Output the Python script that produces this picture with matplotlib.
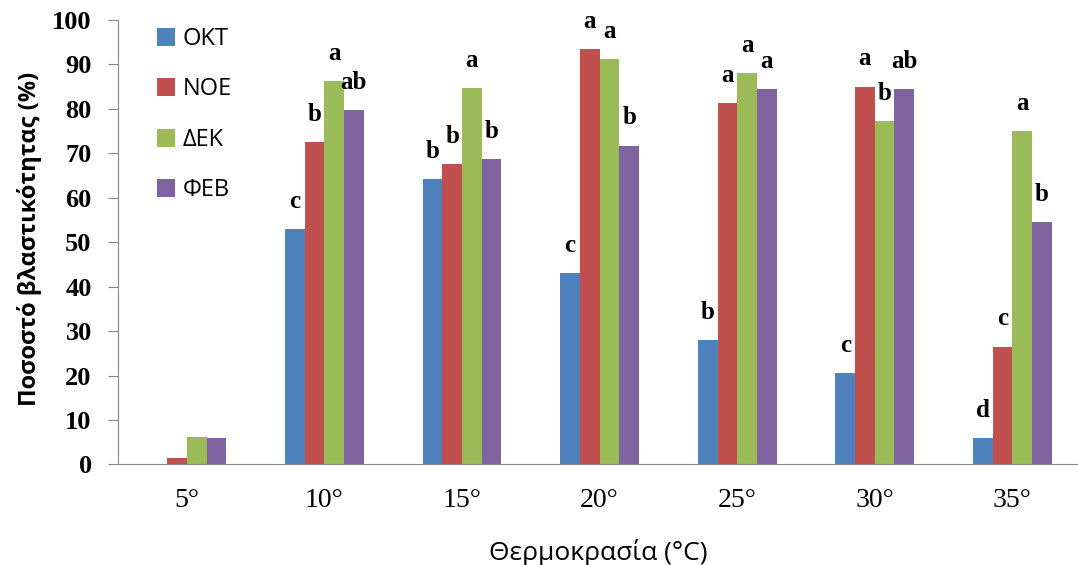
# Ποσοστό βλαστικότητας ανά θερμοκρασία και μήνα συλλογής
import numpy as np
import matplotlib.pyplot as plt

temps = ['5°', '10°', '15°', '20°', '25°', '30°', '35°']
months = ['ΟΚΤ', 'ΝΟΕ', 'ΔΕΚ', 'ΦΕΒ']
okt = [0.0, 53.0, 64.2, 43.0, 28.0, 20.6, 5.9]
noe = [1.5, 72.5, 67.6, 93.5, 81.3, 85.0, 26.5]
dek = [6.2, 86.3, 84.7, 91.2, 88.1, 77.3, 75.0]
feb = [6.0, 79.7, 68.7, 71.7, 84.4, 84.4, 54.5]
letters_okt = ['', 'c', 'b', 'c', 'b', 'c', 'd']
letters_noe = ['', 'b', 'b', 'a', 'a', 'a', 'c']
letters_dek = ['', 'a', 'a', 'a', 'a', 'b', 'a']
letters_feb = ['', 'ab', 'b', 'b', 'a', 'ab', 'b']

series = [okt, noe, dek, feb]
letters = [letters_okt, letters_noe, letters_dek, letters_feb]
colors = ['#4F81BD', '#C0504D', '#9BBB59', '#8064A2']

fig = plt.figure(figsize=(10.78, 5.65), dpi=100)
ax = fig.add_axes([0.1095, 0.178, 0.8905, 0.7868])

x = np.arange(len(temps))
w = 0.143
for i, (vals, lab, col) in enumerate(zip(series, letters, colors)):
    pos = x + (i - 1.5) * w
    ax.bar(pos, vals, width=w, color=col, label=months[i], zorder=2)
    for px, v, t in zip(pos, vals, lab):
        if t:
            ax.annotate(t, (px, v), xytext=(0, 20), textcoords='offset points',
                        ha='center', va='center', fontsize=18,
                        family='Liberation Serif', fontweight='bold')

ax.set_xlim(-0.5, 6.477)
ax.set_ylim(0, 100)
ax.set_yticks(range(0, 101, 10))
ax.set_xticks(x)
ax.set_xticklabels(temps, family='Liberation Serif', fontsize=20)
for t in ax.get_yticklabels():
    t.set_family('Liberation Serif')
    t.set_fontweight('bold')
    t.set_fontsize(19)

for s in ['top', 'right']:
    ax.spines[s].set_visible(False)
for s in ['left', 'bottom']:
    ax.spines[s].set_color('#868686')
ax.tick_params(axis='y', direction='out', length=7, color='#868686', pad=12)
ax.tick_params(axis='x', length=0, pad=17)

ax.set_ylabel('Ποσοστό βλαστικότητας (%)', fontsize=17, fontweight='bold',
              family='Open Sans')
ax.yaxis.set_label_coords(-0.079, 0.508)
ax.set_xlabel('Θερμοκρασία (°C)', fontsize=19, family='Open Sans', va='center')
ax.xaxis.set_label_coords(0.5, -0.197)

ax.legend(loc='upper left', bbox_to_anchor=(0.018, 1.032), frameon=False,
          handlelength=0.8, handleheight=0.8, handletextpad=0.3,
          labelspacing=1.12, prop={'family': 'Open Sans', 'size': 17})

plt.savefig('out.png', dpi=100)
